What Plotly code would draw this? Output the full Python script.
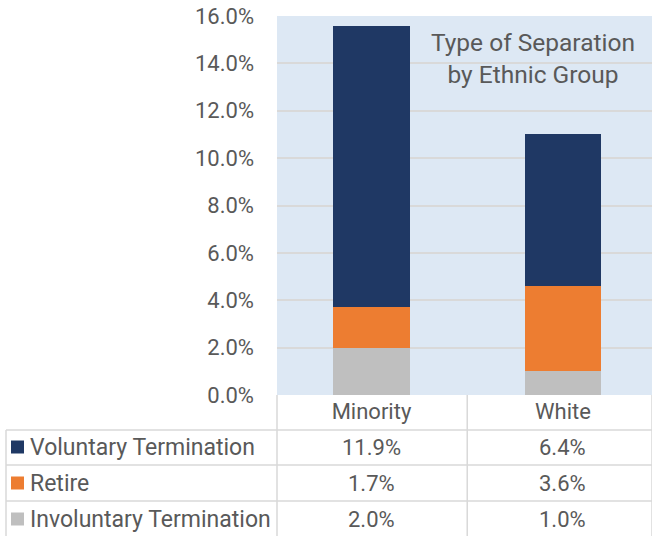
import plotly.graph_objects as go

categories = ["Minority", "White"]
series_names = ["Involuntary Termination", "Retire", "Voluntary Termination"]
involuntary = [0.020, 0.010]
retire = [0.017, 0.036]
voluntary = [0.119, 0.064]
y_ticks = [0.0, 0.02, 0.04, 0.06, 0.08, 0.10, 0.12, 0.14, 0.16]
colors = {"Involuntary Termination": "#bfbfbf", "Retire": "#ed7d31", "Voluntary Termination": "#1f3864"}
values = {"Involuntary Termination": involuntary, "Retire": retire, "Voluntary Termination": voluntary}
table_order = ["Voluntary Termination", "Retire", "Involuntary Termination"]

W, H = 652, 536
L, T = 277, 16
BOT = 395
B = H - BOT
plot_h = BOT - T
plot_w = W - L
FONT = "Roboto"
TXT = "#595959"
GRID = "#d9d9d9"
FS = 22
FS_TABLE = 23

xmin, xmax = -0.4935, 1.465

def py(pix):
    return (BOT - pix) / plot_h

def pxp(pix):
    return (pix - L) / plot_w

def px(xd):
    return (xd - xmin) / (xmax - xmin)

fig = go.Figure()
for name in series_names:
    fig.add_trace(go.Bar(x=list(range(len(categories))), y=values[name], name=name,
                         marker=dict(color=colors[name], line=dict(width=0)), width=0.4,
                         showlegend=False))

shapes = []
line = dict(color=GRID, width=1.5)
shapes.append(dict(type="line", xref="paper", yref="paper", x0=0, x1=0, y0=0, y1=py(536), line=line))
shapes.append(dict(type="line", xref="paper", yref="paper", x0=px(0.5), x1=px(0.5), y0=0, y1=py(536), line=line))
shapes.append(dict(type="line", xref="paper", yref="paper", x0=1, x1=1, y0=0, y1=py(536), line=line))
lx = pxp(6)
shapes.append(dict(type="line", xref="paper", yref="paper", x0=lx, x1=lx, y0=py(430), y1=py(536), line=line))
for yy in [430, 465, 501]:
    shapes.append(dict(type="line", xref="paper", yref="paper", x0=lx, x1=1, y0=py(yy), y1=py(yy), line=line))

annotations = []
row_y = [447, 483, 519]
for i, name in enumerate(table_order):
    yc = py(row_y[i])
    shapes.append(dict(type="rect", xref="paper", yref="paper", x0=pxp(11), x1=pxp(24),
                       y0=yc - 6.5 / plot_h, y1=yc + 6.5 / plot_h,
                       fillcolor=colors[name], line=dict(width=0)))
    annotations.append(dict(xref="paper", yref="paper", x=pxp(28), y=yc, text=name,
                            showarrow=False, xanchor="left", yanchor="middle",
                            font=dict(family=FONT, size=FS_TABLE, color=TXT)))
    for j, cat in enumerate(categories):
        annotations.append(dict(xref="x", yref="paper", x=j, y=yc, text=f"{values[name][j]*100:.1f}%",
                                showarrow=False, xanchor="center", yanchor="middle",
                                font=dict(family=FONT, size=FS, color=TXT)))

annotations.append(dict(xref="paper", yref="paper", x=pxp(533), y=py(58),
                        text="Type of Separation<br>by Ethnic Group", showarrow=False,
                        xanchor="center", yanchor="middle", align="center",
                        font=dict(family=FONT, size=24.5, color=TXT)))

fig.update_layout(
    barmode="stack",
    width=W, height=H,
    margin=dict(l=L, r=0, t=T, b=B, pad=0),
    paper_bgcolor="white",
    plot_bgcolor="#dde8f4",
    font=dict(family=FONT, color=TXT, size=FS),
    bargap=0,
    shapes=shapes,
    annotations=annotations,
    xaxis=dict(range=[xmin, xmax], tickmode="array", tickvals=list(range(len(categories))),
               ticktext=categories, showgrid=False, zeroline=False, showline=False,
               ticks="", tickfont=dict(size=FS, color=TXT), ticklabelstandoff=1),
    yaxis=dict(range=[0, 0.16001], tickmode="array", tickvals=y_ticks, tickformat=".1%",
               showgrid=True, gridcolor=GRID, ticklabeloverflow="allow",
               gridwidth=1.5, zeroline=False, showline=False, ticks="",
               tickfont=dict(size=FS, color=TXT), ticklabelstandoff=22),
)

fig.write_html("out.html", config={"displayModeBar": False},
               post_script="document.body.style.margin='0';document.body.style.overflow='hidden';")
